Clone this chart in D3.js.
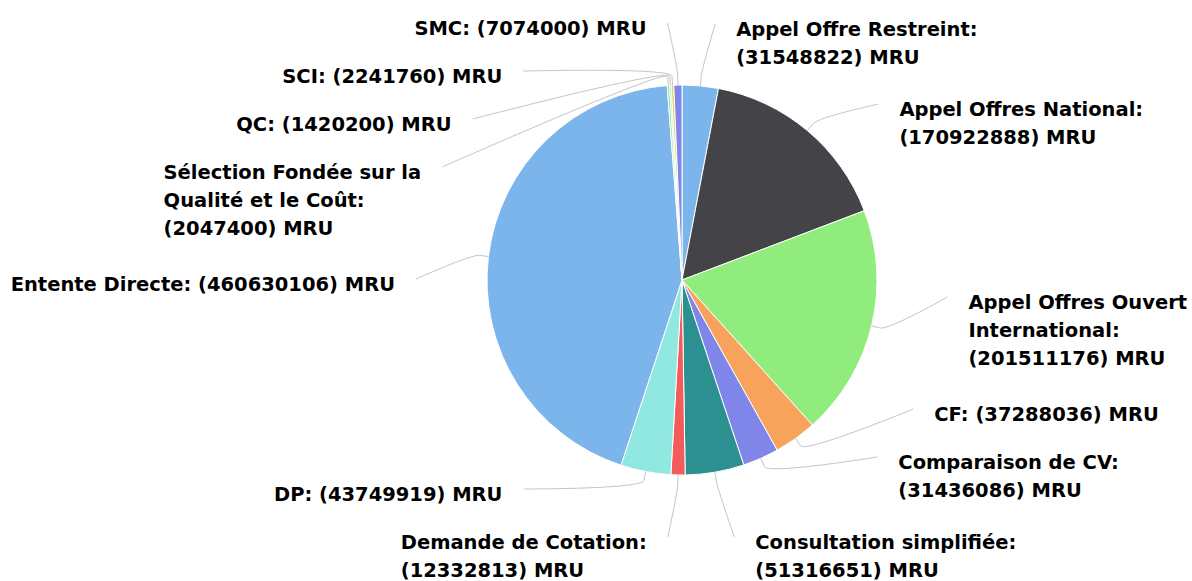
<!DOCTYPE html>
<html><head><meta charset="utf-8">
<script src="https://cdn.jsdelivr.net/npm/d3@7"></script>
<style>html,body{margin:0;padding:0;background:#fff;} svg{display:block}</style>
</head><body>
<svg id="chart" width="1192" height="581"></svg>
<script>
// ---- data ----
const categories = ["Appel Offre Restreint", "Appel Offres National", "Appel Offres Ouvert International", "CF", "Comparaison de CV", "Consultation simplifiée", "Demande de Cotation", "DP", "Entente Directe", "Sélection Fondée sur la Qualité et le Coût", "QC", "SCI", "SMC"];
const values = [31548822, 170922888, 201511176, 37288036, 31436086, 51316651, 12332813, 43749919, 460630106, 2047400, 1420200, 2241760, 7074000];
const colors = ["#7cb5ec", "#434348", "#90ed7d", "#f7a35c", "#8085e9", "#2b908f", "#f45b5b", "#91e8e1", "#7cb5ec", "#90ed7d", "#91e8e1", "#e4d354", "#8085e9"];
const unit = "MRU";
// label text as wrapped in the picture
const nameLines = [["Appel Offre Restreint:"], ["Appel Offres National:"], ["Appel Offres Ouvert", "International:"], ["CF:"], ["Comparaison de CV:"], ["Consultation simplifiée:"], ["Demande de Cotation:"], ["DP:"], ["Entente Directe:"], ["Sélection Fondée sur la", "Qualité et le Coût:"], ["QC:"], ["SCI:"], ["SMC:"]];
const valueOwnLine = [true, true, true, false, true, true, true, false, false, true, false, false, false];

// ---- layout ----
const W = 1192, H = 581;
const cx = 682, cy = 280, r = 195;
const labelR = 257, breakR = 204, pad = 9, textGap = 21;
const lineH = 28, baseOff = 12;
const yTop = 22, yBottom = 537;
const boxH = n => 32 * n + 16;

const svg = d3.select("#chart");
const data = categories.map((c, i) => {
  const valText = `(${values[i]}) ${unit}`;
  let lines = nameLines[i].slice();
  if (valueOwnLine[i]) lines.push(valText);
  else lines[lines.length - 1] = lines[lines.length - 1] + " " + valText;
  return {name: c, value: values[i], color: colors[i], lines};
});

const pie = d3.pie().sort(null).value(d => d.value);
const arcs = pie(data);
const arc = d3.arc().innerRadius(0).outerRadius(r);

const g = svg.append("g").attr("transform", `translate(${cx},${cy})`);
g.selectAll("path.slice").data(arcs).join("path")
  .attr("class", "slice")
  .attr("d", arc)
  .attr("fill", d => d.data.color)
  .attr("stroke", "#ffffff")
  .attr("stroke-width", 1)
  .attr("stroke-linejoin", "round");

// label positions
const labels = arcs.map(a => {
  const m = (a.startAngle + a.endAngle) / 2;
  const right = m < Math.PI;
  return {
    a, m, right,
    natY: cy - labelR * Math.cos(m),
    h: boxH(a.data.lines.length),
    lines: a.data.lines
  };
});

function distribute(list) {
  list.sort((p, q) => p.natY - q.natY);
  list.forEach(l => { l.y = Math.min(Math.max(l.natY, yTop), yBottom); });
  for (let i = 1; i < list.length; i++) list[i].y = Math.max(list[i].y, list[i - 1].y + list[i - 1].h);
  if (list.length) list[list.length - 1].y = Math.min(list[list.length - 1].y, yBottom);
  for (let i = list.length - 2; i >= 0; i--) list[i].y = Math.min(list[i].y, list[i + 1].y - list[i].h);
  if (list.length) list[0].y = Math.max(list[0].y, yTop);
  for (let i = 1; i < list.length; i++) list[i].y = Math.max(list[i].y, list[i - 1].y + list[i - 1].h);
}
distribute(labels.filter(l => l.right));
distribute(labels.filter(l => !l.right));

labels.forEach(l => {
  // labels pinned at the top/bottom edge keep their natural x position
  const yForX = (l.y <= yTop + 2 || l.y >= yBottom - 2) ? l.natY : l.y;
  const dy = Math.max(-labelR, Math.min(labelR, yForX - cy));
  const dx = Math.sqrt(labelR * labelR - dy * dy) + pad;
  l.x = cx + (l.right ? dx : -dx);
  l.tx = cx + r * Math.sin(l.m); l.ty = cy - r * Math.cos(l.m);
  l.bx = cx + breakR * Math.sin(l.m); l.by = cy - breakR * Math.cos(l.m);
});

svg.append("g").selectAll("path").data(labels).join("path")
  .attr("d", l => `M${l.x},${l.y}C${l.x},${l.y} ${2 * l.bx - l.tx},${2 * l.by - l.ty} ${l.bx},${l.by}L${l.tx},${l.ty}`)
  .attr("fill", "none")
  .attr("stroke", "#c4c4c4")
  .attr("stroke-width", 1);

const tg = svg.append("g")
  .attr("font-family", "'DejaVu Sans', Verdana, sans-serif")
  .attr("font-weight", "bold")
  .attr("font-size", "19.5px")
  .attr("fill", "#000");

labels.forEach(l => {
  const t = tg.append("text");
  l.lines.forEach((s, k) => {
    t.append("tspan").attr("x", 0).attr("y", l.y + baseOff + k * lineH).text(s);
  });
  const w = d3.max(t.selectAll("tspan").nodes(), n => n.getComputedTextLength());
  const x0 = l.right ? l.x + textGap : l.x - textGap - w;
  t.selectAll("tspan").attr("x", x0);
});
</script>
</body></html>
